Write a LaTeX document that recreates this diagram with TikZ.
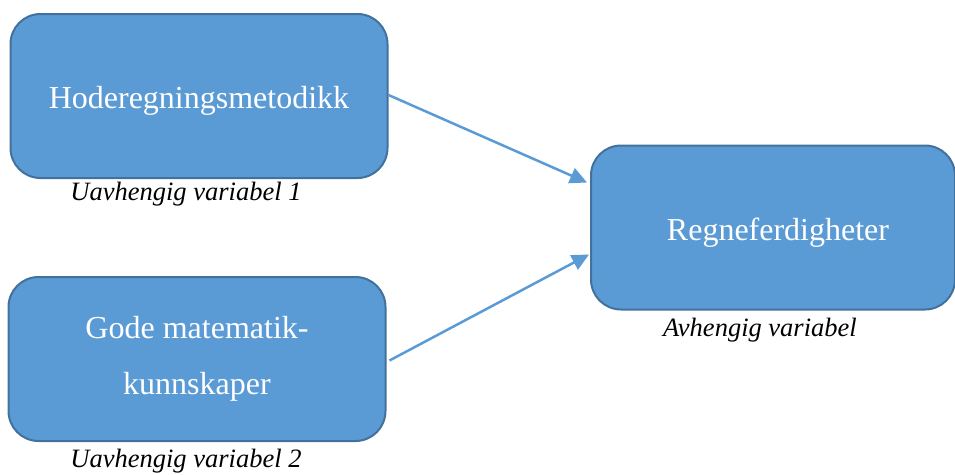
\documentclass[tikz,border=0pt]{standalone}
\usepackage{fontspec}
\setmainfont{Liberation Serif}
\usetikzlibrary{arrows.meta}
\definecolor{boxfill}{HTML}{5B9BD5}
\definecolor{boxline}{HTML}{41719C}
\tikzset{
  varbox/.style={draw=boxline, line width=2pt, fill=boxfill, rounded corners=30pt,
    text=white, align=center, font=\fontsize{32}{56}\selectfont, inner sep=0pt},
  varlabel/.style={font=\fontsize{26.5}{30}\selectfont\itshape, inner sep=0pt, anchor=base},
  link/.style={draw=boxfill, line width=2.5pt, -{Triangle[length=17pt,width=16pt]}}
}
\begin{document}
\begin{tikzpicture}[x=1pt,y=-1pt]
\useasboundingbox (0,0) rectangle (955,474);
\node[varbox, minimum width=377pt, minimum height=164pt] (h) at (199,96) {\raisebox{-5pt}[\height][\depth]{Hoderegningsmetodikk}};
\node[varbox, minimum width=377pt, minimum height=164pt] (g) at (197,359) {Gode matematik-\\kunnskaper};
\node[varbox, minimum width=364pt, minimum height=164pt, text width=364pt] (r) at (773,227.5) {\hspace*{10pt}\raisebox{-5pt}[\height][\depth]{Regneferdigheter}};
\node[varlabel] (l1) at (186,200) {Uavhengig variabel 1};
\node[varlabel] (l2) at (186,467) {Uavhengig variabel 2};
\node[varlabel] (l3) at (760,336) {Avhengig variabel};
\draw[link] ([yshift=1pt]h.east) -- ([xshift=-3pt,yshift=45pt]r.west);
\draw[link] ([xshift=3pt,yshift=-1.5pt]g.east) -- ([xshift=-1pt,yshift=-27pt]r.west);
\end{tikzpicture}
\end{document}
